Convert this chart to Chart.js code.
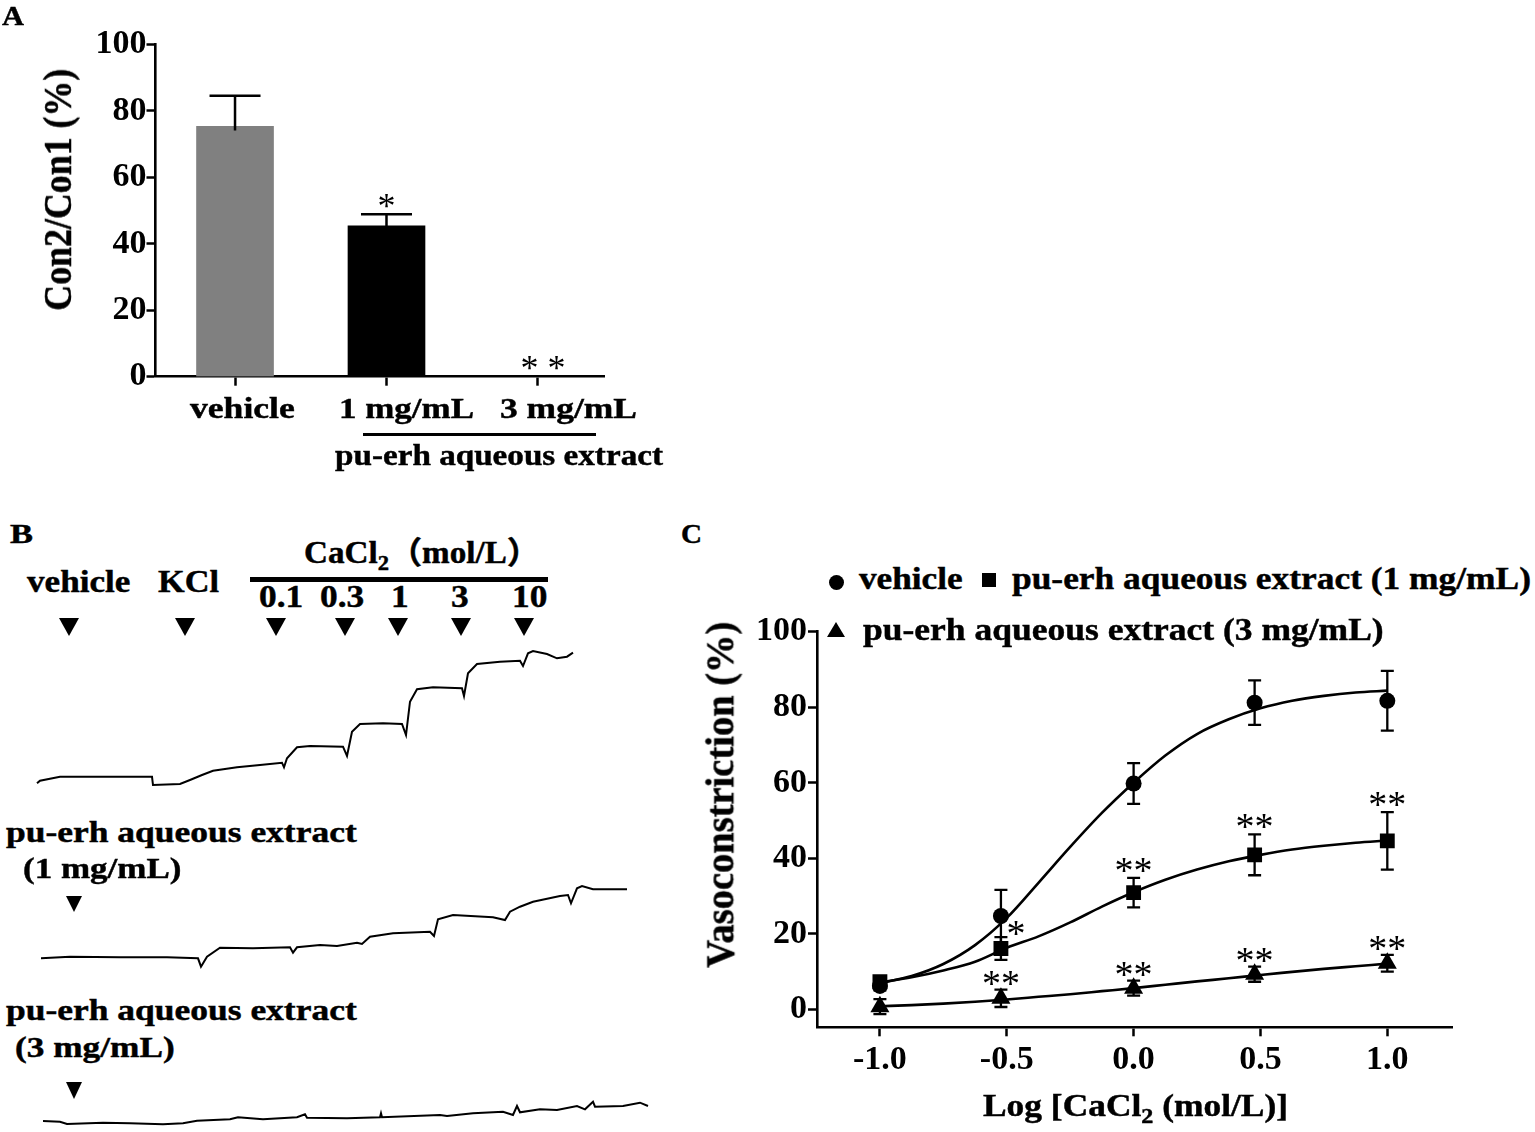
<!DOCTYPE html>
<html>
<head>
<meta charset="utf-8">
<script src="https://cdn.jsdelivr.net/npm/chart.js@4.4.1/dist/chart.umd.min.js"></script>
<style>
html,body{margin:0;padding:0;background:#fff;}
#page{position:relative;width:1535px;height:1132px;overflow:hidden;background:#fff;}
canvas{position:absolute;}
.t{position:absolute;white-space:nowrap;font-family:"Liberation Serif","Times New Roman","Noto Sans CJK SC",serif;font-weight:bold;color:#000;line-height:1;-webkit-text-stroke:0.45px #000;}
.t sub{font-size:0.68em;vertical-align:baseline;position:relative;top:0.32em;line-height:0;}
.shape{position:absolute;}
</style>
</head>
<body>
<div id="page">
<canvas id="chartA" width="680" height="500" style="left:0;top:0;width:680px;height:500px"></canvas>
<canvas id="trace1" width="630" height="160" style="left:30px;top:640px;width:630px;height:160px"></canvas>
<canvas id="trace2" width="630" height="110" style="left:30px;top:870px;width:630px;height:110px"></canvas>
<canvas id="trace3" width="630" height="42" style="left:30px;top:1090px;width:630px;height:42px"></canvas>
<canvas id="chartC" width="800" height="530" style="left:680px;top:600px;width:800px;height:530px"></canvas>
</div>
<script>
// ---------------- DATA ----------------
// Panel A: Con2/Con1 (%)
const groupLabels = ['vehicle', '1 mg/mL', '3 mg/mL'];
const ratioMean = [75.3, 45.4, 0];
const ratioSem  = [9.2, 3.5, 0];
const ratioSig  = ['', '*', '* *'];
const yTicksA   = [0, 20, 40, 60, 80, 100];

// Panel C: CaCl2 concentration-response
const logCa   = [-1, -0.523, 0, 0.477, 1];
const vehMean = [6.2, 24.7, 59.8, 81.2, 81.7];
const vehSem  = [1.2, 6.9, 5.4, 5.9, 7.9];
const ext1Mean = [7.3, 16.1, 30.9, 40.9, 44.6];
const ext1Sem  = [1.2, 3.0, 3.9, 5.4, 7.6];
const ext1Sig  = ['', '*', '**', '**', '**'];
const ext3Mean = [0.7, 2.9, 5.6, 9.3, 12.2];
const ext3Sem  = [2.0, 2.3, 2.0, 2.0, 2.2];
const ext3Sig  = ['', '**', '**', '**', '**'];
// fitted curves
const fitX    = [-1, -0.875, -0.75, -0.625, -0.5, -0.375, -0.25, -0.125, 0, 0.125, 0.25, 0.375, 0.5, 0.625, 0.75, 0.875, 1];
const vehFit  = [6.9, 8.8, 12.0, 17.0, 24.2, 33.5, 43.0, 52.0, 60.0, 67.2, 72.9, 76.8, 79.7, 81.7, 83.0, 83.9, 84.4];
const ext1Fit = [7.1, 8.5, 10.3, 12.6, 16.3, 19.3, 23.0, 27.2, 31.0, 34.3, 37.0, 39.2, 40.9, 42.3, 43.3, 44.1, 44.7];
const ext3Fit = [0.8, 1.1, 1.5, 2.0, 2.6, 3.3, 4.0, 4.8, 5.6, 6.5, 7.4, 8.2, 9.1, 9.9, 10.7, 11.4, 12.1];
const xTicksC = [-1, -0.5, 0, 0.5, 1];
const yTicksC = [0, 20, 40, 60, 80, 100];

// Panel B: tension recordings (time, arbitrary s; tension, arbitrary units)
const traceVehT = [0, 3, 23, 50, 115, 116, 143, 153, 165, 176, 200, 223, 245, 247, 250, 260, 273, 306, 310, 315, 323, 346, 365, 369, 373, 380, 396, 425, 427, 431, 440, 463, 483, 486, 491, 496, 510, 520, 530, 536];
const traceVehF = [0.67, 0.93, 1.33, 1.33, 1.33, 0.5, 0.6, 1.0, 1.5, 1.93, 2.27, 2.5, 2.73, 2.27, 3.17, 4.27, 4.4, 4.33, 3.4, 5.83, 6.6, 6.67, 6.6, 5.5, 8.83, 10.07, 10.27, 10.17, 9.4, 11.67, 12.6, 12.83, 12.93, 12.4, 13.67, 13.9, 13.6, 13.17, 13.33, 13.73];
const trace1mgT = [4, 33, 83, 130, 161, 164, 170, 183, 216, 253, 256, 260, 283, 300, 320, 325, 333, 356, 393, 397, 401, 416, 456, 468, 473, 483, 496, 523, 531, 534, 540, 545, 556, 576, 590];
const trace1mgF = [0.67, 0.83, 0.77, 0.77, 0.67, -0.17, 0.83, 1.73, 1.67, 1.77, 1.23, 1.77, 2.0, 1.9, 2.23, 2.1, 2.83, 3.17, 3.33, 2.9, 4.57, 5.0, 4.77, 4.5, 5.33, 5.83, 6.33, 6.9, 7.0, 6.17, 7.67, 7.9, 7.57, 7.57, 7.57];
const trace3mgT = [6, 23, 30, 66, 93, 126, 146, 160, 193, 201, 226, 260, 268, 270, 310, 343, 344, 345, 403, 410, 436, 466, 476, 480, 483, 503, 520, 540, 548, 556, 558, 586, 603, 611];
const trace3mgF = [0.4, 0.33, 0.1, 0.23, 0.17, 0.07, 0.17, 0.43, 0.57, 0.77, 0.57, 0.77, 1.07, 0.73, 0.67, 0.77, 1.17, 0.77, 1.0, 0.9, 1.17, 1.33, 1.0, 1.9, 1.27, 1.57, 1.5, 1.9, 1.57, 2.33, 1.83, 1.9, 2.23, 1.9];
const caDoses = ['0.1', '0.3', '1', '3', '10'];

// ---------------- LAYOUT ----------------
const SERIF = '"Liberation Serif", "Times New Roman", serif';
const page = document.getElementById('page');
const tickFont = {family: SERIF, weight: 'bold', size: 34};

function mk(html, size, color) {
  const d = document.createElement('div');
  d.className = 't';
  d.innerHTML = html;
  d.style.fontSize = size + 'px';
  if (color) d.style.color = color;
  page.appendChild(d);
  return d;
}
function hText(html, x, base, size, w, align) {
  const d = mk(html, size);
  const nw = d.getBoundingClientRect().width;
  const sx = w ? w / nw : 1.14;
  const ww = nw * sx;
  d.style.left = (align === 'center' ? x - ww / 2 : x) + 'px';
  d.style.top = (base - 0.8375 * size) + 'px';
  d.style.transformOrigin = '0 0';
  d.style.transform = 'scaleX(' + sx + ')';
  return d;
}
function vText(html, cx, cy, size, len, thick) {
  const d = mk(html, size);
  const nw = d.getBoundingClientRect().width;
  d.style.left = (cx - nw / 2) + 'px';
  d.style.top = (cy - size / 2) + 'px';
  d.style.transformOrigin = '50% 50%';
  d.style.transform = 'rotate(-90deg) scale(' + (len / nw) + ',' + thick + ')';
}
function rect(l, t, w, h) {
  const d = document.createElement('div');
  d.className = 'shape';
  Object.assign(d.style, {left: l + 'px', top: t + 'px', width: w + 'px', height: h + 'px', background: '#000'});
  page.appendChild(d);
  return d;
}
function tri(cx, top, w, h, down) {
  const d = document.createElement('div');
  d.className = 'shape';
  Object.assign(d.style, {left: (cx - w / 2) + 'px', top: top + 'px', width: 0, height: 0,
    borderLeft: (w / 2) + 'px solid transparent', borderRight: (w / 2) + 'px solid transparent'});
  if (down) d.style.borderTop = h + 'px solid #000'; else d.style.borderBottom = h + 'px solid #000';
  page.appendChild(d);
}

// ---- Panel A texts
hText('A', 2, 25, 28, 22);
vText('Con2/Con1 (%)', 59, 190, 35.5, 242, 1.1);
const groupLabelX = [242.4, 406.5, 568.5];
const groupLabelW = [104.8, 135, 137];
groupLabels.forEach((g, i) => hText(g, groupLabelX[i], 418.3, 30, groupLabelW[i], 'center'));
rect(363, 433, 233, 2.6);
hText('pu-erh aqueous extract', 335, 465, 30, 328);

// ---- Panel B texts
hText('B', 10, 543.3, 28, 23);
hText('vehicle', 27.4, 591.7, 31, 103.4);
hText('KCl', 158.3, 591.7, 31, 61);
hText('CaCl<sub>2</sub>（mol/L）', 304, 563.3, 31, 236);
rect(250, 577, 298, 5);
const doseX = [280.7, 342, 400, 460, 530];
caDoses.forEach((d, i) => hText(d, doseX[i], 606.7, 31, null, 'center'));
[69.6, 185.7, 276.5, 345.3, 398, 461, 524].forEach(x => tri(x, 618.3, 21, 18, true));
hText('pu-erh aqueous extract', 6.3, 841.7, 30, 350.7);
hText('(1 mg/mL)', 23, 878.3, 30, 158.5);
tri(74.7, 896, 17.5, 16.7, true);
hText('pu-erh aqueous extract', 6.3, 1020, 30, 350.7);
hText('(3 mg/mL)', 14.7, 1056.7, 30, 159.7);
tri(74.5, 1082, 17.5, 17.5, true);

// ---- Panel C texts
hText('C', 681, 543, 28, 21);
const circ = rect(836 - 7.5, 582 - 7.5, 15, 15); circ.style.borderRadius = '50%';
hText('vehicle', 858.8, 589, 31, 103.6);
rect(989 - 7.25, 580 - 7.25, 14.5, 14.5);
hText('pu-erh aqueous extract (1 mg/mL)', 1011.5, 589, 31, 519);
tri(836, 621.5, 19, 15, false);
hText('pu-erh aqueous extract (3 mg/mL)', 862.7, 640, 31, 520.7);
vText('Vasoconstriction (%)', 721, 795, 37.5, 346, 1.07);
hText('Log [CaCl<sub>2</sub> (mol/L)]', 983, 1116, 31, 305);

// ---------------- CHARTS ----------------
const common = {responsive: false, animation: false, events: [],
  plugins: {legend: {display: false}, tooltip: {enabled: false}}};

const axisStyle = (tickLen) => ({
  grid: {display: true, offset: false, drawOnChartArea: false, drawTicks: true, tickLength: tickLen, tickWidth: 2.5, color: '#000', tickColor: '#000'},
  border: {display: true, color: '#000', width: 2.6}
});

// Panel A bar chart
const barErr = {
  id: 'barErr',
  afterDatasetsDraw(chart) {
    const {ctx, scales: {y}} = chart;
    const meta = chart.getDatasetMeta(0);
    ctx.save();
    ctx.strokeStyle = '#000'; ctx.fillStyle = '#000'; ctx.lineWidth = 2.5;
    ctx.font = '36px ' + SERIF; ctx.textAlign = 'center'; ctx.textBaseline = 'alphabetic';
    meta.data.forEach((bar, i) => {
      const top = y.getPixelForValue(ratioMean[i] + ratioSem[i]);
      if (ratioSem[i] > 0) {
        ctx.beginPath();
        ctx.moveTo(bar.x, y.getPixelForValue(ratioMean[i]) + 4); ctx.lineTo(bar.x, top);
        ctx.moveTo(bar.x - 25.5, top); ctx.lineTo(bar.x + 25.5, top);
        ctx.stroke();
      }
      if (ratioSig[i]) ctx.fillText(ratioSig[i], bar.x + (i === 2 ? 5 : 0), top - 13.5 + 17);
    });
    ctx.restore();
  }
};

new Chart(document.getElementById('chartA'), {
  type: 'bar',
  data: {datasets: [{
    data: groupLabels.map((g, i) => ({x: i, y: ratioMean[i]})),
    backgroundColor: ['#808080', '#000000', '#000000'],
    borderWidth: 0, barThickness: 77
  }]},
  options: Object.assign({}, common, {
    layout: {padding: {left: 0, right: 76, top: 44.3, bottom: 0}},
    scales: {
      x: Object.assign({type: 'linear', min: -0.525, max: 2.436, offset: false,
        afterBuildTicks: s => { s.ticks = groupLabels.map((g, i) => ({value: i})); },
        ticks: {display: false},
        afterFit: s => { s.height = 123.3; }
      }, axisStyle(9)),
      y: Object.assign({min: 0, max: 100,
        afterBuildTicks: s => { s.ticks = yTicksA.map(v => ({value: v})); },
        ticks: {font: tickFont, color: '#000', padding: 0},
        afterFit: s => { s.width = 155.5; }
      }, axisStyle(9))
    }
  }),
  plugins: [barErr]
});

// Panel B traces
function traceChart(id, T, F, ymin, ymax) {
  new Chart(document.getElementById(id), {
    type: 'line',
    data: {datasets: [{data: T.map((t, i) => ({x: t, y: F[i]})), borderColor: '#000', borderWidth: 2.0,
      pointRadius: 0, tension: 0, fill: false, clip: false}]},
    options: Object.assign({}, common, {
      layout: {padding: 0},
      scales: {x: {type: 'linear', min: -7, max: 623, display: false},
               y: {type: 'linear', min: ymin, max: ymax, display: false}}
    })
  });
}
traceChart('trace1', traceVehT, traceVehF, -1, 15);
traceChart('trace2', trace1mgT, trace1mgF, -1.5, 9.5);
traceChart('trace3', trace3mgT, trace3mgF, -0.7, 3.5);

// Panel C
const sigDx = {ext1: [0, 15, 0, 0, 0], ext3: [0, 0, 0, 0, 0]};
const sigLift = {ext1: [13, 9, 13, 13, 13], ext3: [12, 12, 12, 12, 12]};
const errC = {
  id: 'errC',
  afterDatasetsDraw(chart) {
    const {ctx, scales: {y}} = chart;
    chart.data.datasets.forEach((ds, di) => {
      if (!ds.sem) return;
      const meta = chart.getDatasetMeta(di);
      ctx.save();
      ctx.strokeStyle = '#000'; ctx.fillStyle = '#000'; ctx.lineWidth = 2.3;
      ctx.font = '38px ' + SERIF; ctx.textAlign = 'center'; ctx.textBaseline = 'alphabetic';
      meta.data.forEach((pt, i) => {
        const m = ds.data[i].y, s = ds.sem[i];
        const yt = y.getPixelForValue(m + s), yb = y.getPixelForValue(m - s);
        ctx.beginPath();
        ctx.moveTo(pt.x, yt); ctx.lineTo(pt.x, yb);
        ctx.moveTo(pt.x - 6.5, yt); ctx.lineTo(pt.x + 6.5, yt);
        ctx.moveTo(pt.x - 6.5, yb); ctx.lineTo(pt.x + 6.5, yb);
        ctx.stroke();
        if (ds.sig && ds.sig[i]) {
          const k = ds.key;
          ctx.fillText(ds.sig[i], pt.x + sigDx[k][i], yt - sigLift[k][i] + 18);
        }
      });
      ctx.restore();
    });
  }
};
const pts = (X, Y) => X.map((x, i) => ({x, y: Y[i]}));
const fitDs = Y => ({type: 'line', data: pts(fitX, Y), borderColor: '#000', borderWidth: 2.6, pointRadius: 0,
  cubicInterpolationMode: 'monotone', fill: false});
const markDs = (Y, sem, style, r, sig, key) => ({type: 'scatter', data: pts(logCa, Y), pointStyle: style, pointRadius: r,
  backgroundColor: '#000', borderColor: '#000', borderWidth: 0, showLine: false, sem, sig, key});

new Chart(document.getElementById('chartC'), {
  type: 'scatter',
  data: {datasets: [
    markDs(vehMean, vehSem, 'circle', 8, null, 'veh'),
    markDs(ext1Mean, ext1Sem, 'rect', 10.5, ext1Sig, 'ext1'),
    markDs(ext3Mean, ext3Sem, 'triangle', 11, ext3Sig, 'ext3'),
    fitDs(vehFit), fitDs(ext1Fit), fitDs(ext3Fit)
  ]},
  options: Object.assign({}, common, {
    layout: {padding: {left: 0, right: 28, top: 31.7, bottom: 0}},
    scales: {
      x: Object.assign({type: 'linear', min: -1.248, max: 1.255,
        afterBuildTicks: s => { s.ticks = xTicksC.map(v => ({value: v})); },
        ticks: {font: tickFont, color: '#000', padding: 4, maxRotation: 0, callback: v => Number(v).toFixed(1)},
        afterFit: s => { s.height = 102.7; }
      }, axisStyle(9)),
      y: Object.assign({type: 'linear', min: -4.77, max: 100,
        afterBuildTicks: s => { s.ticks = yTicksC.map(v => ({value: v})); },
        ticks: {font: tickFont, color: '#000', padding: 1},
        afterFit: s => { s.width = 137; }
      }, axisStyle(9))
    }
  }),
  plugins: [errC]
});
</script>
</body>
</html>
